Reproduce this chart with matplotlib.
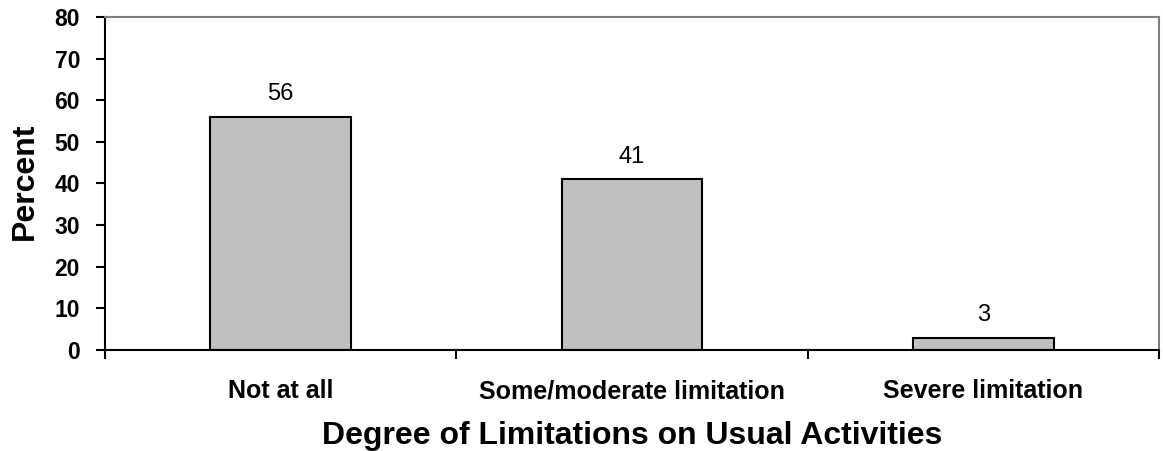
import matplotlib
matplotlib.use("Agg")
import matplotlib.pyplot as plt
from matplotlib.ticker import FixedLocator, NullFormatter
from matplotlib.transforms import blended_transform_factory

categories = ["Not at all", "Some/moderate limitation", "Severe limitation"]
percents = [56, 41, 3]
y_ticks = [0, 10, 20, 30, 40, 50, 60, 70, 80]

plt.rcParams["font.family"] = ["Liberation Sans", "DejaVu Sans"]

W, H = 1163, 451
fig = plt.figure(figsize=(W / 100, H / 100), dpi=100)
ax = fig.add_axes([105 / W, 1 - 350 / H, (1159 - 105) / W, (350 - 17) / H])

x = list(range(len(categories)))
ax.bar(x, percents, width=0.4, color="#C0C0C0", edgecolor="black", linewidth=1.5, zorder=2)
for xi, v in zip(x, percents):
    ax.annotate(f"{v}", xy=(xi, v), xytext=(0, 12), textcoords="offset points",
                ha="center", va="baseline", fontsize=17)

ax.set_xlim(-0.5, len(categories) - 0.5)
ax.set_ylim(0, 80)
ax.set_yticks(y_ticks)
ax.set_yticklabels([str(t) for t in y_ticks], fontsize=16.5, fontweight="bold")

# ticks sit at the category boundaries; names go under each bar
ax.xaxis.set_major_locator(FixedLocator([-0.5, 0.5, 1.5, 2.5]))
ax.xaxis.set_major_formatter(NullFormatter())
ax.tick_params(axis="x", length=6.5, width=1.5, direction="out")
ax.tick_params(axis="y", length=6.5, width=1.5, direction="out", pad=11.5)

cat_tr = blended_transform_factory(ax.transData, fig.transFigure)
for xi, name in zip(x, categories):
    ax.text(xi, 1 - 398.5 / H, name, transform=cat_tr, ha="center", va="baseline",
            fontsize=18, fontweight="bold")

for side in ("left", "bottom"):
    ax.spines[side].set_color("black")
    ax.spines[side].set_linewidth(1.5)
for side in ("top", "right"):
    ax.spines[side].set_color("#808080")
    ax.spines[side].set_linewidth(1.5)

fig.text(33 / W, 1 - 181.5 / H, "Percent", rotation=90, rotation_mode="anchor",
         ha="center", va="baseline", fontsize=23, fontweight="bold")
fig.text(632 / W, 1 - 444 / H, "Degree of Limitations on Usual Activities",
         ha="center", va="baseline", fontsize=23, fontweight="bold")

fig.savefig("out.png", dpi=100)
